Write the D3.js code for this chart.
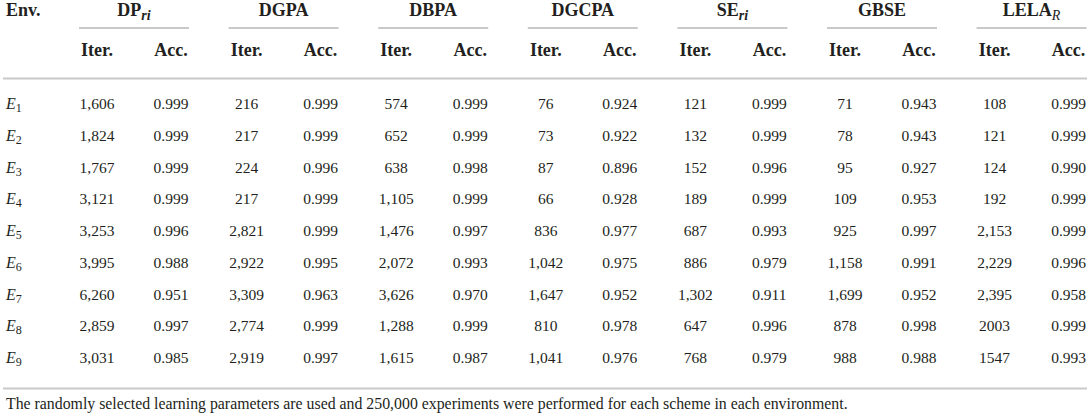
<!DOCTYPE html>
<html>
<head>
<meta charset="utf-8">
<script src="https://cdn.jsdelivr.net/npm/d3@7"></script>
<style>
  body { margin: 0; background: #fff; }
  svg { display: block; font-family: "Liberation Serif", "Times New Roman", serif; }
</style>
</head>
<body>
<script>
// table data, one array per column
const envs = ["1", "2", "3", "4", "5", "6", "7", "8", "9"];
const schemeNames = ["DP", "DGPA", "DBPA", "DGCPA", "SE", "GBSE", "LELA"];
const schemeSubs = ["ri", "", "", "", "ri", "", "R"];
const subHeaders = ["Iter.", "Acc."];

const iterDPri = [1606, 1824, 1767, 3121, 3253, 3995, 6260, 2859, 3031];
const accDPri = [0.999, 0.999, 0.999, 0.999, 0.996, 0.988, 0.951, 0.997, 0.985];
const iterDGPA = [216, 217, 224, 217, 2821, 2922, 3309, 2774, 2919];
const accDGPA = [0.999, 0.999, 0.996, 0.999, 0.999, 0.995, 0.963, 0.999, 0.997];
const iterDBPA = [574, 652, 638, 1105, 1476, 2072, 3626, 1288, 1615];
const accDBPA = [0.999, 0.999, 0.998, 0.999, 0.997, 0.993, 0.970, 0.999, 0.987];
const iterDGCPA = [76, 73, 87, 66, 836, 1042, 1647, 810, 1041];
const accDGCPA = [0.924, 0.922, 0.896, 0.928, 0.977, 0.975, 0.952, 0.978, 0.976];
const iterSEri = [121, 132, 152, 189, 687, 886, 1302, 647, 768];
const accSEri = [0.999, 0.999, 0.996, 0.999, 0.993, 0.979, 0.911, 0.996, 0.979];
const iterGBSE = [71, 78, 95, 109, 925, 1158, 1699, 878, 988];
const accGBSE = [0.943, 0.943, 0.927, 0.953, 0.997, 0.991, 0.952, 0.998, 0.988];
const iterLELAR = [108, 121, 124, 192, 2153, 2229, 2395, 2003, 1547];
const accLELAR = [0.999, 0.999, 0.990, 0.999, 0.999, 0.996, 0.958, 0.999, 0.993];

// cells printed without thousands separator in the source: [scheme, row]
const iterNoComma = [[6, 7], [6, 8]];

const footnote = "The randomly selected learning parameters are used and 250,000 experiments were performed for each scheme in each environment.";

const iters = [iterDPri, iterDGPA, iterDBPA, iterDGCPA, iterSEri, iterGBSE, iterLELAR];
const accs = [accDPri, accDGPA, accDBPA, accDGCPA, accSEri, accGBSE, accLELAR];

const width = 1089, height = 416;
const ink = "#231f20", rule = "#c9c9c9";

const svg = d3.select("body").append("svg")
  .attr("width", width)
  .attr("height", height);

// group left edge for each scheme
const x = d3.scaleLinear().domain([0, schemeNames.length]).range([79, 79 + 149.6 * schemeNames.length]);
const groupW = 110;
const colOffset = [18, 92]; // centres of Iter. / Acc. within a group

// baselines of the body rows
const y = d3.scaleLinear().domain([0, envs.length - 1]).range([109, 363]);

const fmtIter = d3.format(",");
const fmtAcc = d3.format(".3f");

// horizontal rules
svg.append("g").selectAll("line")
  .data([78.5, 388.5])
  .join("line")
  .attr("x1", 3).attr("x2", 1087)
  .attr("y1", d => d).attr("y2", d => d)
  .attr("stroke", rule).attr("stroke-width", 2);

svg.append("g").selectAll("line")
  .data(schemeNames)
  .join("line")
  .attr("x1", (d, i) => x(i)).attr("x2", (d, i) => x(i) + groupW)
  .attr("y1", 28).attr("y2", 28)
  .attr("stroke", rule).attr("stroke-width", 2);

// header
svg.append("text")
  .attr("x", 6).attr("y", 16)
  .attr("font-size", 18).attr("font-weight", "bold").attr("fill", ink)
  .text("Env.");

const titles = svg.append("g").selectAll("text")
  .data(schemeNames)
  .join("text")
  .attr("x", (d, i) => x(i) + groupW / 2)
  .attr("y", 16)
  .attr("text-anchor", "middle")
  .attr("font-size", 18).attr("font-weight", "bold").attr("fill", ink);

titles.append("tspan").text(d => d);
titles.append("tspan")
  .attr("dy", 4)
  .attr("font-size", 14)
  .attr("font-style", "italic")
  .attr("font-weight", (d, i) => schemeSubs[i] === "R" ? "normal" : "bold")
  .text((d, i) => schemeSubs[i]);

const subCells = [];
schemeNames.forEach((s, i) => subHeaders.forEach((h, j) => subCells.push({ i, j, h })));

svg.append("g").selectAll("text")
  .data(subCells)
  .join("text")
  .attr("x", d => x(d.i) + colOffset[d.j])
  .attr("y", 55.5)
  .attr("text-anchor", "middle")
  .attr("font-size", 18).attr("font-weight", "bold").attr("fill", ink)
  .text(d => d.h);

// row labels
const rowLab = svg.append("g").selectAll("text")
  .data(envs)
  .join("text")
  .attr("x", 6)
  .attr("y", (d, r) => y(r))
  .attr("font-size", 16).attr("fill", ink);

rowLab.append("tspan").attr("font-style", "italic").text("E");
rowLab.append("tspan").attr("dy", 3).attr("font-size", 12).text(d => d);

// body cells
const cells = [];
schemeNames.forEach((s, i) => {
  envs.forEach((e, r) => {
    const plain = iterNoComma.some(c => c[0] === i && c[1] === r);
    cells.push({ i, r, j: 0, t: plain ? String(iters[i][r]) : fmtIter(iters[i][r]) });
    cells.push({ i, r, j: 1, t: fmtAcc(accs[i][r]) });
  });
});

svg.append("g").selectAll("text")
  .data(cells)
  .join("text")
  .attr("x", d => x(d.i) + colOffset[d.j])
  .attr("y", d => y(d.r))
  .attr("text-anchor", "middle")
  .attr("font-size", 15.5).attr("fill", ink)
  .text(d => d.t);

// footnote, sized to the source width
const fn = svg.append("text")
  .attr("x", 6).attr("y", 409)
  .attr("font-size", 14).attr("fill", ink)
  .text(footnote);
const len = fn.node().getComputedTextLength();
fn.attr("font-size", 14 * 842 / len);
</script>
</body>
</html>
